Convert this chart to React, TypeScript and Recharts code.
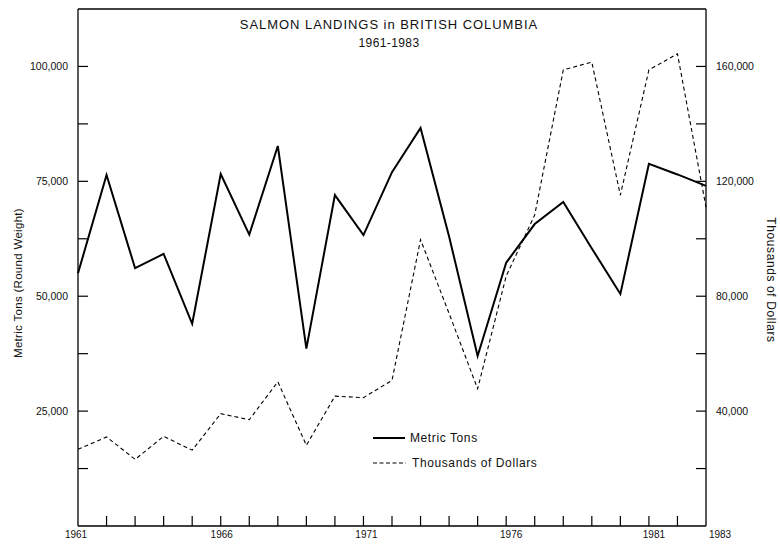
import { LineChart, Line, XAxis, YAxis, ReferenceLine, Legend } from 'recharts';

const years = [
  1961, 1962, 1963, 1964, 1965, 1966, 1967, 1968, 1969, 1970, 1971, 1972,
  1973, 1974, 1975, 1976, 1977, 1978, 1979, 1980, 1981, 1982, 1983,
];

// metric tons, round weight (left axis)
const metricTons = [
  55000, 76400, 56100, 59200, 44000, 76600, 63400, 82700, 38600, 72000, 63300, 77000,
  86600, 63000, 37000, 57300, 65700, 70500, 60400, 50500, 78800, 76500, 74000,
];

// thousands of dollars (right axis)
const dollars = [
  26700, 31000, 23200, 31200, 26400, 39100, 37000, 50200, 28100, 45200, 44700, 50700,
  99700, 74000, 47800, 87000, 108300, 158800, 161500, 115200, 158800, 164400, 111000,
];

const yearLabels = [1961, 1966, 1971, 1976, 1981, 1983];
const leftTicks = [12500, 25000, 37500, 50000, 62500, 75000, 87500, 100000];
const rightTicks = [20000, 40000, 60000, 80000, 100000, 120000, 140000, 160000];

const data = years.map((year, i) => ({ year, tons: metricTons[i], dollars: dollars[i] }));

const FONT = '"Liberation Sans", Arial, sans-serif';
const fmt = (v: number) => v.toLocaleString('en-US');

// the scanned labels drift a little right of their ticks
const labelShift: Record<number, number> = { 1961: -2, 1966: 1, 1971: 3, 1976: 5, 1981: 5, 1983: 14 };

const YearTick = ({ x, y, payload }: any) => {
  const v = payload.value;
  return (
    <g>
      {v !== 1961 && v !== 1983 && <line x1={x} y1={y} x2={x} y2={y - 10} stroke="#000" strokeWidth={1.2} />}
      {yearLabels.includes(v) && (
        <text x={x + (labelShift[v] || 0)} y={y + 12} textAnchor="middle" fontSize={10} fontFamily={FONT} fill="#111">
          {v}
        </text>
      )}
    </g>
  );
};

const LeftTick = ({ x, y, payload }: any) => {
  const v = payload.value;
  return (
    <g>
      <line x1={x} y1={y} x2={x + 10} y2={y} stroke="#000" strokeWidth={1.2} />
      {v % 25000 === 0 && (
        <text x={x - 10} y={y + 4} textAnchor="end" fontSize={10.5} fontFamily={FONT} fill="#111">
          {fmt(v)}
        </text>
      )}
    </g>
  );
};

const RightTick = ({ x, y, payload }: any) => {
  const v = payload.value;
  return (
    <g>
      <line x1={x} y1={y} x2={x - 10} y2={y} stroke="#000" strokeWidth={1.2} />
      {v % 40000 === 0 && (
        <text x={x + 10} y={y + 4} textAnchor="start" fontSize={10.5} fontFamily={FONT} fill="#111">
          {fmt(v)}
        </text>
      )}
    </g>
  );
};

const KeyBox = ({ payload }: any) => (
  <svg width={220} height={50} style={{ display: 'block' }}>
    {(payload || []).map((entry: any, i: number) => {
      const y = 10 + i * 25;
      const dashed = entry.dataKey === 'dollars';
      return (
        <g key={entry.value}>
          <line
            x1={1}
            y1={y}
            x2={dashed ? 34 : 33}
            y2={y}
            stroke="#000"
            strokeWidth={dashed ? 1.1 : 2}
            strokeDasharray={dashed ? '4 2.5' : undefined}
          />
          <text x={dashed ? 40 : 38} y={y + 4} fontSize={12} letterSpacing={0.6} fontFamily={FONT} fill="#111">
            {entry.value}
          </text>
        </g>
      );
    })}
  </svg>
);

export default function App() {
  return (
    <div style={{ position: 'absolute', left: 0, top: 0, width: 780, height: 547, background: '#fff' }}>
      <LineChart width={780} height={547} data={data} margin={{ top: 9, right: 0, bottom: 0, left: 0 }}>
        <XAxis
          dataKey="year"
          type="number"
          domain={[1961, 1983]}
          ticks={years}
          interval={0}
          height={21}
          tickSize={0}
          tickMargin={0}
          tickLine={false}
          tick={<YearTick />}
          axisLine={{ stroke: '#000', strokeWidth: 1.3 }}
        />
        <YAxis
          yAxisId="left"
          domain={[0, 112500]}
          ticks={leftTicks}
          interval={0}
          width={78}
          tickSize={0}
          tickMargin={0}
          tickLine={false}
          tick={<LeftTick />}
          axisLine={{ stroke: '#000', strokeWidth: 1.3 }}
        />
        <YAxis
          yAxisId="right"
          orientation="right"
          domain={[0, 180000]}
          ticks={rightTicks}
          interval={0}
          width={74}
          tickSize={0}
          tickMargin={0}
          tickLine={false}
          tick={<RightTick />}
          axisLine={{ stroke: '#000', strokeWidth: 1.3 }}
        />
        <ReferenceLine yAxisId="left" y={112500} stroke="#000" strokeWidth={1.3} />
        <Line
          yAxisId="left"
          dataKey="tons"
          name="Metric Tons"
          stroke="#000"
          strokeWidth={2}
          dot={false}
          isAnimationActive={false}
        />
        <Line
          yAxisId="right"
          dataKey="dollars"
          name="Thousands of Dollars"
          stroke="#000"
          strokeWidth={1.1}
          strokeDasharray="4 3"
          dot={false}
          isAnimationActive={false}
        />
        {/* vertical + center + middle keeps the legend out of the plot offset */}
        <Legend
          layout="vertical"
          align="center"
          verticalAlign="middle"
          content={<KeyBox />}
          wrapperStyle={{ position: 'absolute', left: 372, top: 428, width: 220 }}
        />
      </LineChart>
      <svg
        width={780}
        height={547}
        style={{ position: 'absolute', left: 0, top: 0, pointerEvents: 'none' }}
        fontFamily={FONT}
        fill="#111"
      >
        <text x={389} y={29} textAnchor="middle" fontSize={13} letterSpacing={0.95}>
          SALMON LANDINGS in BRITISH COLUMBIA
        </text>
        <text x={389} y={47} textAnchor="middle" fontSize={12} letterSpacing={0.4}>
          1961-1983
        </text>
        <text
          x={18}
          y={283}
          textAnchor="middle"
          fontSize={11.5}
          letterSpacing={0.3}
          transform="rotate(-90 18 283)"
          dominantBaseline="central"
        >
          Metric Tons (Round Weight)
        </text>
        <text
          x={771}
          y={280}
          textAnchor="middle"
          fontSize={12}
          letterSpacing={0.6}
          transform="rotate(90 771 280)"
          dominantBaseline="central"
        >
          Thousands of Dollars
        </text>
      </svg>
    </div>
  );
}
